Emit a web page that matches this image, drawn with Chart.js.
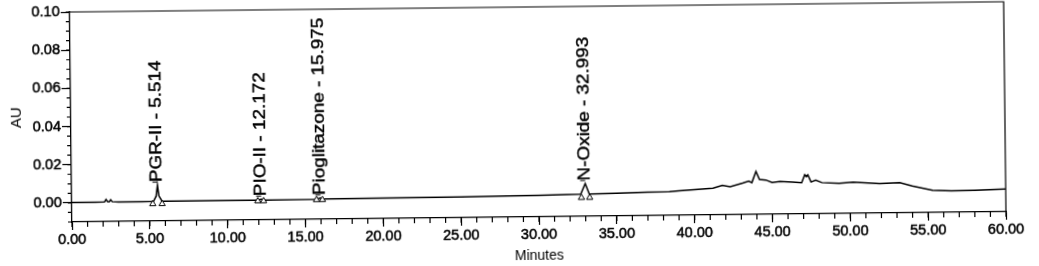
<!DOCTYPE html>
<html>
<head>
<meta charset="utf-8">
<title>Chromatogram</title>
<script src="https://cdn.jsdelivr.net/npm/chart.js@4.4.0/dist/chart.umd.min.js"></script>
<style>
    html, body { margin: 0; padding: 0; background: #fff; overflow: hidden; }
    /* 扫描件略微倾斜，整体旋转画布 */
    #wrap {
        position: absolute; left: 0; top: 0;
        width: 1060px; height: 290px;
        transform-origin: 72px 222px;
        transform: rotate(-0.63deg);
    }
</style>
</head>
<body>
<div id="wrap"><canvas id="chrom" width="1060" height="290"></canvas></div>
<script>
// 色谱曲线
const times = [
    0, 1.5, 2.1, 2.2, 2.3, 2.4, 2.5, 2.6, 3.0, 4.5,
    5.25, 5.42, 5.514, 5.60, 5.80, 8.0, 11.9, 12.17, 12.4, 15.7,
    15.975, 16.2, 20, 25, 28, 30, 32.7, 32.993, 33.25, 35,
    37, 38.4, 39.0, 40.0, 41.2, 41.8, 42.3, 43.1, 43.5, 43.7,
    43.97, 44.19, 44.6, 45.0, 45.5, 46.3, 46.9, 47.1, 47.2, 47.3,
    47.5, 47.8, 48.2, 49.3, 50.2, 51.9, 53.2, 54.0, 55.3, 56.5,
    58.0, 60.0
];
const au = [
    0.0002, 0.0002, 0.0003, 0.0016, 0.0005, 0.0004, 0.0014, 0.0004, 0.0002, 0.0002,
    0.0003, 0.0030, 0.0088, 0.0032, 0.0004, 0.0003, 0.0003, 0.0009, 0.0004, 0.0005,
    0.0011, 0.0006, 0.0007, 0.0009, 0.0011, 0.0013, 0.0016, 0.0072, 0.0017, 0.0019,
    0.0023, 0.0025, 0.0028, 0.0033, 0.0040, 0.0054, 0.0047, 0.0065, 0.0075, 0.0067,
    0.0125, 0.0083, 0.0080, 0.0066, 0.0072, 0.0068, 0.0064, 0.0106, 0.0095, 0.0105,
    0.0067, 0.0077, 0.0063, 0.0058, 0.0064, 0.0055, 0.0058, 0.0040, 0.0017, 0.0012,
    0.0014, 0.0019
];

// 峰标注
const peakNames = ['PGR-II', 'PIO-II', 'Pioglitazone', 'N-Oxide'];
const peakTimes = [5.514, 12.172, 15.975, 32.993];
const peakApex = [0.0088, 0.0009, 0.0011, 0.0072];

// 积分起止标记 (三角形)
const markStart = [5.20, 11.95, 15.72, 32.74];
const markEnd = [5.80, 12.32, 16.10, 33.27];
const markAU = [-0.0010, -0.0001, 0.0002, -0.0002];

// 坐标轴刻度
const xTicks = [0, 5, 10, 15, 20, 25, 30, 35, 40, 45, 50, 55, 60];
const yTicks = [0, 0.02, 0.04, 0.06, 0.08, 0.10];
const xMinorStep = 1;
const yMinorStep = 0.005;

const INK = '#000';
const FONT_FAMILY = '"Liberation Sans", Arial, sans-serif';
const TICK_FONT = { family: FONT_FAMILY, size: 14.5 };

// 次刻度 + 顶部/右侧边框
const framePlugin = {
    id: 'frame',
    afterDraw(chart) {
        const { ctx, chartArea: a, scales: { x, y } } = chart;
        ctx.save();
        ctx.strokeStyle = INK;
        ctx.lineWidth = 1.2;
        ctx.beginPath();
        ctx.moveTo(a.left, a.top);
        ctx.lineTo(a.right, a.top);
        ctx.lineTo(a.right, a.bottom);
        for (let t = x.min; t <= x.max + 1e-9; t += xMinorStep) {
            const px = x.getPixelForValue(t);
            ctx.moveTo(px, a.bottom);
            ctx.lineTo(px, a.bottom + 5);
        }
        for (let v = y.min; v <= y.max + 1e-9; v += yMinorStep) {
            const py = y.getPixelForValue(v);
            ctx.moveTo(a.left, py);
            ctx.lineTo(a.left - 4, py);
        }
        ctx.stroke();
        ctx.restore();
    }
};

// 竖排峰名
const peakLabelPlugin = {
    id: 'peakLabels',
    afterDatasetsDraw(chart) {
        const { ctx, scales: { x, y } } = chart;
        ctx.save();
        ctx.fillStyle = INK;
        ctx.strokeStyle = INK;
        ctx.font = '16px ' + FONT_FAMILY;
        ctx.textBaseline = 'middle';
        ctx.textAlign = 'left';
        peakNames.forEach((name, i) => {
            const px = x.getPixelForValue(peakTimes[i]);
            const py = y.getPixelForValue(peakApex[i]) - 3;
            ctx.lineWidth = 1;
            ctx.beginPath();
            ctx.moveTo(px - 5, py);
            ctx.lineTo(px, py);
            ctx.stroke();
            ctx.save();
            ctx.translate(px, py);
            ctx.rotate(-Math.PI / 2);
            ctx.scale(1.18, 1);
            const text = name + ' - ' + peakTimes[i].toFixed(3);
            ctx.lineWidth = 0.4;
            ctx.fillText(text, 0, 0);
            ctx.strokeText(text, 0, 0);
            ctx.restore();
        });
        ctx.restore();
    }
};

const markTimes = markStart.flatMap((s, i) => [s, markEnd[i]]);
const markVals = markAU.flatMap(v => [v, v]);

new Chart(document.getElementById('chrom'), {
    type: 'line',
    data: {
        datasets: [
            {
                type: 'scatter',
                data: markTimes.map((t, i) => ({ x: t, y: markVals[i] })),
                pointStyle: 'triangle',
                pointRadius: 3.6,
                pointBorderWidth: 1,
                pointBorderColor: INK,
                pointBackgroundColor: '#fff',
                order: 0
            },
            {
                data: times.map((t, i) => ({ x: t, y: au[i] })),
                borderColor: INK,
                borderWidth: 1.5,
                pointRadius: 0,
                tension: 0,
                order: 1
            }
        ]
    },
    options: {
        responsive: false,
        animation: false,
        devicePixelRatio: 1,
        layout: { padding: { left: 0, top: 12, right: 54, bottom: 10 } },
        plugins: { legend: { display: false }, tooltip: { enabled: false } },
        scales: {
            x: {
                type: 'linear',
                min: 0,
                max: 60,
                afterBuildTicks(scale) { scale.ticks = xTicks.map(v => ({ value: v })); },
                afterFit(scale) { scale.height = 58; },
                ticks: {
                    font: TICK_FONT,
                    color: INK,
                    textStrokeColor: INK,
                    textStrokeWidth: 0.5,
                    padding: 1,
                    maxRotation: 0,
                    callback: v => v.toFixed(2)
                },
                grid: { drawOnChartArea: false, tickLength: 8, tickColor: INK, tickWidth: 1.2 },
                border: { color: INK, width: 1.3 },
                title: {
                    display: true,
                    text: 'Minutes',
                    color: INK,
                    font: { family: FONT_FAMILY, size: 14 },
                    padding: { top: 0, bottom: 10 }
                }
            },
            y: {
                min: -0.01,
                max: 0.10,
                afterBuildTicks(scale) { scale.ticks = yTicks.map(v => ({ value: v })); },
                afterFit(scale) { scale.width = 72; },
                ticks: {
                    font: TICK_FONT,
                    color: INK,
                    textStrokeColor: INK,
                    textStrokeWidth: 0.5,
                    padding: 1,
                    callback: v => v.toFixed(2)
                },
                grid: { drawOnChartArea: false, tickLength: 9, tickColor: INK, tickWidth: 1.2 },
                border: { color: INK, width: 1.3 },
                title: {
                    display: true,
                    text: 'AU',
                    color: INK,
                    font: { family: FONT_FAMILY, size: 15 },
                    padding: { top: 9, bottom: 0 }
                }
            }
        }
    },
    plugins: [framePlugin, peakLabelPlugin]
});
</script>
</body>
</html>
